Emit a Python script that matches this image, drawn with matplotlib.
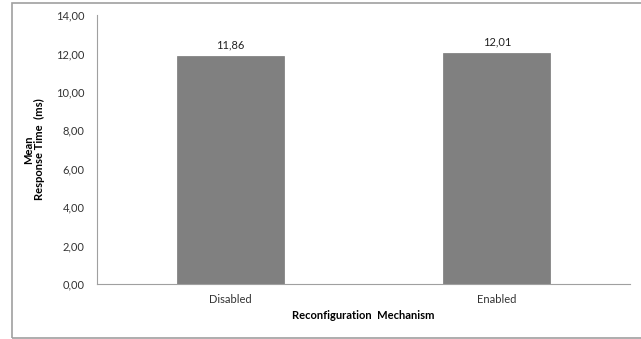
import matplotlib
matplotlib.use("Agg")
import matplotlib.pyplot as plt
from matplotlib.patches import Rectangle

categories = ["Disabled", "Enabled"]
values = [11.86, 12.01]
value_labels = ["11,86", "12,01"]
yticks = [0, 2, 4, 6, 8, 10, 12, 14]
ytick_labels = ["0,00", "2,00", "4,00", "6,00", "8,00", "10,00", "12,00", "14,00"]

plt.rcParams['font.family'] = ['Lato', 'DejaVu Sans']

W, H = 641, 339
fig = plt.figure(figsize=(W/100, H/100), dpi=100)
fig.patch.set_facecolor('white')

# outer frame
fig.patches.append(Rectangle((12/W, 1/H), (W+5-12)/W, (338-3)/H, transform=fig.transFigure,
                             fill=False, edgecolor='#a0a0a0', linewidth=1.2))

ax = fig.add_axes([97/W, 1-284/H, (630-97)/W, (284-15)/H])
x = list(range(len(categories)))
ax.bar(x, values, width=0.4, color='#808080', edgecolor='#7a7a7a', linewidth=0.5)
ax.set_xlim(-0.5, 1.5)
ax.set_ylim(0, 14)
ax.set_yticks(yticks)
ax.set_yticklabels(ytick_labels)
ax.set_xticks(x)
ax.set_xticklabels(categories)
for xi, v, lab in zip(x, values, value_labels):
    ax.annotate(lab, (xi, v), xytext=(0, 4), textcoords='offset points',
                ha='center', va='bottom', fontsize=8, color='#222222')

for s in ['top', 'right']:
    ax.spines[s].set_visible(False)
ax.spines['left'].set_color('#a0a0a0')
ax.spines['bottom'].set_color('#a0a0a0')
ax.tick_params(axis='both', length=0, labelsize=8, colors='#333333')
ax.tick_params(axis='y', pad=9)
ax.tick_params(axis='x', pad=7)
ax.set_xlabel("Reconfiguration  Mechanism", fontsize=8, fontweight='bold', labelpad=4)
ax.set_ylabel("Mean\nResponse Time  (ms)", fontsize=8, fontweight='bold', labelpad=8, linespacing=1.0)

fig.savefig("out.png", dpi=100, facecolor='white')
